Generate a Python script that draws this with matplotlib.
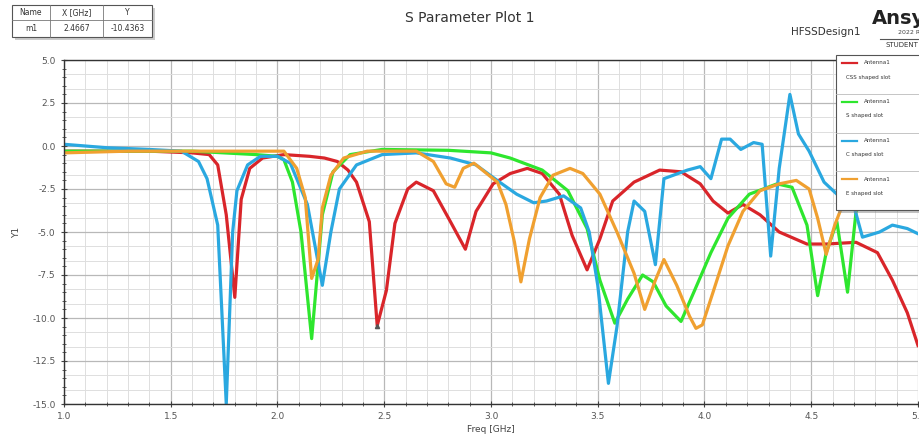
import numpy as np
import matplotlib
matplotlib.use("Agg")
import matplotlib.pyplot as plt
from matplotlib.patches import Rectangle
from matplotlib.lines import Line2D

# ---------------- data ----------------
red_x = [1.0, 1.2, 1.4, 1.6, 1.68, 1.72, 1.76, 1.80, 1.83, 1.87, 1.93, 2.03, 2.15, 2.22, 2.28,
         2.33, 2.37, 2.43, 2.467, 2.51, 2.55, 2.61, 2.65, 2.73, 2.81, 2.88, 2.93, 3.01, 3.09,
         3.17, 3.24, 3.32, 3.38, 3.45, 3.51, 3.57, 3.67, 3.79, 3.89, 3.98, 4.04, 4.11, 4.18,
         4.26, 4.35, 4.48, 4.57, 4.71, 4.81, 4.88, 4.95, 5.0]
red_y = [-0.3, -0.3, -0.3, -0.4, -0.5, -1.1, -4.0, -8.8, -3.1, -1.3, -0.7, -0.5, -0.6, -0.7, -0.9,
         -1.4, -2.1, -4.4, -10.44, -8.4, -4.5, -2.5, -2.1, -2.6, -4.4, -6.0, -3.8, -2.2, -1.6,
         -1.3, -1.6, -2.8, -5.2, -7.2, -5.4, -3.2, -2.1, -1.4, -1.5, -2.2, -3.2, -3.9, -3.4,
         -4.0, -5.0, -5.7, -5.7, -5.6, -6.2, -7.8, -9.7, -11.6]

green_x = [1.0, 1.3, 1.6, 1.9, 2.0, 2.03, 2.07, 2.11, 2.16, 2.19, 2.21, 2.26, 2.34, 2.49, 2.8,
           3.0, 3.09, 3.24, 3.36, 3.45, 3.51, 3.58, 3.64, 3.71, 3.76, 3.82, 3.89, 3.95, 4.03,
           4.11, 4.21, 4.34, 4.41, 4.48, 4.53, 4.57, 4.62, 4.67, 4.71, 4.8, 4.9, 5.0]
green_y = [-0.3, -0.3, -0.3, -0.5, -0.6, -0.8, -2.1, -5.0, -11.2, -6.9, -4.0, -1.5, -0.5, -0.2,
           -0.25, -0.4, -0.7, -1.4, -2.6, -4.8, -7.8, -10.3, -8.9, -7.5, -7.9, -9.3, -10.2, -8.5,
           -6.2, -4.2, -2.8, -2.2, -2.4, -4.6, -8.7, -6.2, -4.4, -8.5, -3.8, -2.5, -2.0, -2.0]

cyan_x = [1.0, 1.2, 1.4, 1.55, 1.63, 1.67, 1.72, 1.76, 1.79, 1.81, 1.86, 1.92, 2.0, 2.06, 2.14,
          2.21, 2.25, 2.29, 2.37, 2.49, 2.65, 2.81, 2.93, 3.04, 3.12, 3.20, 3.26, 3.34, 3.42,
          3.46, 3.50, 3.55, 3.59, 3.64, 3.67, 3.72, 3.77, 3.81, 3.92, 3.98, 4.03, 4.08, 4.12,
          4.17, 4.23, 4.27, 4.31, 4.35, 4.40, 4.44, 4.49, 4.56, 4.62, 4.70, 4.74, 4.82, 4.88,
          4.95, 5.0]
cyan_y = [0.1, -0.1, -0.2, -0.3, -0.9, -1.9, -4.6, -15.0, -5.0, -2.6, -1.1, -0.6, -0.6, -1.0,
          -3.4, -8.1, -5.0, -2.5, -1.1, -0.5, -0.4, -0.7, -1.1, -2.1, -2.8, -3.3, -3.2, -2.9,
          -3.6, -5.0, -8.1, -13.8, -10.5, -5.0, -3.2, -3.8, -6.9, -1.9, -1.4, -1.2, -1.9, 0.4,
          0.4, -0.2, 0.2, 0.1, -6.4, -1.3, 3.0, 0.7, -0.3, -2.1, -2.8, -3.5, -5.3, -5.0, -4.6,
          -4.8, -5.1]

orange_x = [1.0, 1.3, 1.6, 1.9, 2.03, 2.09, 2.13, 2.16, 2.19, 2.21, 2.25, 2.31, 2.42, 2.65,
            2.73, 2.79, 2.83, 2.87, 2.92, 2.96, 3.03, 3.07, 3.11, 3.14, 3.18, 3.23, 3.29, 3.37,
            3.43, 3.51, 3.59, 3.67, 3.72, 3.77, 3.81, 3.87, 3.93, 3.96, 3.99, 4.04, 4.11, 4.18,
            4.26, 4.35, 4.43, 4.49, 4.53, 4.57, 4.61, 4.66, 4.75, 4.85, 5.0]
orange_y = [-0.4, -0.3, -0.3, -0.3, -0.3, -1.3, -3.0, -7.7, -6.6, -3.6, -1.7, -0.7, -0.3, -0.3,
            -0.9, -2.2, -2.4, -1.3, -1.0, -1.4, -2.1, -3.4, -5.6, -7.9, -5.4, -3.0, -1.7, -1.3,
            -1.6, -2.8, -5.0, -7.4, -9.5, -7.8, -6.6, -8.1, -9.9, -10.6, -10.4, -8.5, -5.8, -3.8,
            -2.6, -2.2, -2.0, -2.5, -4.2, -6.3, -4.6, -3.0, -2.2, -2.0, -2.0]

series_names = ["CSS shaped slot", "S shaped slot", "C shaped slot", "E shaped slot"]
series_colors = ["#d9252a", "#2ee62e", "#2aa8e0", "#f0a030"]

marker_name = "m1"
marker_x = 2.4667
marker_y = -10.4363

# ---------------- figure ----------------
W, H = 920, 443
fig = plt.figure(figsize=(W / 100, H / 100), dpi=100)
fig.patch.set_facecolor("white")

def fx(px):
    return px / W

def fy(py):
    return 1 - py / H

ax = fig.add_axes([fx(64), fy(404), fx(918) - fx(64), fy(60) - fy(404)])
ax.set_xlim(1.0, 5.0)
ax.set_ylim(-15.0, 5.0)

# grid
for gx in np.arange(1.0, 5.0001, 0.1):
    major = abs((gx * 2) - round(gx * 2)) < 1e-6
    ax.axvline(gx, color="#b8b8b8" if major else "#dedede", lw=0.9 if major else 0.7, zorder=0)
for gy in np.arange(-15.0, 5.0001, 2.5 / 3):
    major = abs(gy / 2.5 - round(gy / 2.5)) < 1e-6
    ax.axhline(gy, color="#b8b8b8" if major else "#dedede", lw=0.9 if major else 0.7, zorder=0)

data = [(red_x, red_y), (green_x, green_y), (cyan_x, cyan_y), (orange_x, orange_y)]
order = [1, 3, 2, 0]
for i in order:
    xs, ys = data[i]
    ax.plot(xs, ys, color=series_colors[i], lw=2.3, solid_joinstyle="round", zorder=2 + i * 0.1)

ax.plot([marker_x], [marker_y], marker="^", ms=3, color="#555555", zorder=5)

ax.set_xticks(np.arange(1.0, 5.01, 0.5))
ax.set_xticks(np.arange(1.0, 5.01, 0.1), minor=True)
ax.set_yticks(np.arange(-15.0, 5.01, 2.5))
ax.set_yticks(np.arange(-15.0, 5.01, 0.5), minor=True)
ax.xaxis.set_major_formatter(matplotlib.ticker.FormatStrFormatter("%.1f"))
ax.yaxis.set_major_formatter(matplotlib.ticker.FormatStrFormatter("%.1f"))
ax.tick_params(which="both", direction="inout", colors="#444444", labelsize=6.5,
               labelcolor="#555555")
ax.tick_params(which="major", length=5, width=0.8)
ax.tick_params(which="minor", length=3, width=0.6)
for s in ax.spines.values():
    s.set_color("#333333")
    s.set_linewidth(1.0)
ax.spines["right"].set_visible(False)
ax.set_xlabel("Freq [GHz]", fontsize=6.5, color="#444444", labelpad=3)
ax.set_ylabel("Y1", fontsize=6.5, color="#444444", labelpad=8)

# ---------------- header ----------------
fig.text(fx(470), fy(18), "S Parameter Plot 1", ha="center", va="center", fontsize=10,
         color="#333333")
fig.text(fx(826), fy(32), "HFSSDesign1", ha="center", va="center", fontsize=7.5,
         color="#333333")
fig.text(fx(872), fy(19), "Ansys", ha="left", va="center", fontsize=14, fontweight="bold",
         color="#222222")
fig.text(fx(898), fy(33), "2022 R1", ha="left", va="center", fontsize=4.5, color="#444444")
fig.add_artist(Line2D([fx(880), fx(920)], [fy(39), fy(39)], color="#555555", lw=0.8))
fig.text(fx(886), fy(45), "STUDENT", ha="left", va="center", fontsize=5, color="#333333")

# marker table
tx0, tx1, tx2, tx3 = 12, 50, 103, 152
ty0, ty1, ty2 = 5, 20, 37
fig.add_artist(Rectangle((fx(tx0 + 3), fy(ty2 + 3)), fx(tx3 - tx0), fy(ty0) - fy(ty2),
                         facecolor="#999999", edgecolor="none", alpha=0.5))
fig.add_artist(Rectangle((fx(tx0), fy(ty2)), fx(tx3 - tx0), fy(ty0) - fy(ty2),
                         facecolor="white", edgecolor="#555555", lw=0.8))
for xx in (tx1, tx2):
    fig.add_artist(Line2D([fx(xx), fx(xx)], [fy(ty0), fy(ty2)], color="#777777", lw=0.6))
fig.add_artist(Line2D([fx(tx0), fx(tx3)], [fy(ty1), fy(ty1)], color="#777777", lw=0.6))
hdr = ["Name", "X [GHz]", "Y"]
row = [marker_name, f"{marker_x:.4f}", f"{marker_y:.4f}"]
cx = [(tx0 + tx1) / 2, (tx1 + tx2) / 2, (tx2 + tx3) / 2]
for c, h, r in zip(cx, hdr, row):
    fig.text(fx(c), fy((ty0 + ty1) / 2), h, ha="center", va="center", fontsize=5.5,
             color="#333333")
    fig.text(fx(c), fy((ty1 + ty2) / 2), r, ha="center", va="center", fontsize=5.5,
             color="#333333")

# legend box (manual, mimicking HFSS)
lx0, lx1, ly0, ly1 = 836, 925, 55, 210
fig.add_artist(Rectangle((fx(lx0 + 2), fy(ly1 + 3)), fx(lx1 - lx0), fy(ly0) - fy(ly1),
                         facecolor="#888888", edgecolor="none", alpha=0.5, zorder=10))
fig.add_artist(Rectangle((fx(lx0), fy(ly1)), fx(lx1 - lx0), fy(ly0) - fy(ly1),
                         facecolor="white", edgecolor="#555555", lw=0.8, zorder=11))
row_h = (ly1 - ly0) / 4
for k in range(4):
    top = ly0 + k * row_h
    if k > 0:
        fig.add_artist(Line2D([fx(lx0), fx(lx1)], [fy(top), fy(top)], color="#bbbbbb",
                              lw=0.6, zorder=12))
    yl = top + 8
    fig.add_artist(Line2D([fx(842), fx(857)], [fy(yl), fy(yl)], color=series_colors[k],
                          lw=1.6, zorder=12))
    fig.text(fx(864), fy(yl), "Antenna1", ha="left", va="center", fontsize=4, color="#333333",
             zorder=12)
    fig.text(fx(846), fy(yl + 14), series_names[k], ha="left", va="center", fontsize=4,
             color="#333333", zorder=12)

fig.savefig("out.png", dpi=100, facecolor="white")
